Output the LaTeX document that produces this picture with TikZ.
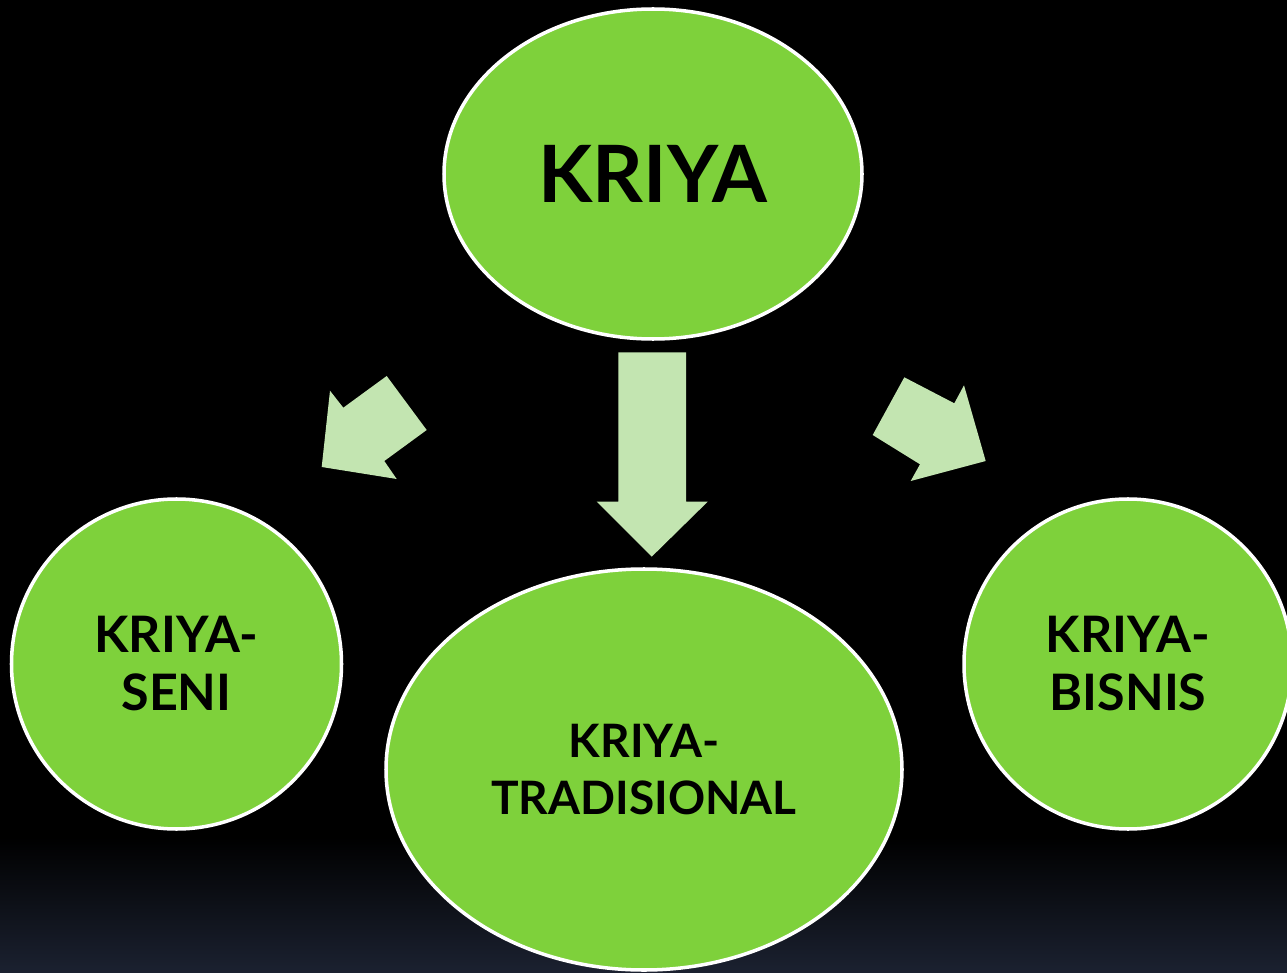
\documentclass[tikz,border=0pt]{standalone}
\usepackage{fontspec}
\setmainfont{Lato}
\usepackage{tikz}
\usetikzlibrary{shapes.geometric,positioning}
\definecolor{kriyagreen}{HTML}{7ED13B}
\definecolor{arrowgreen}{HTML}{C3E5B1}
\definecolor{bgblue}{HTML}{1B2130}
\tikzset{
    topic/.style={ellipse,draw=white,line width=1pt,fill=kriyagreen,inner sep=0pt,
        align=center,font=\bfseries},
    blockarrow/.style={fill=arrowgreen}
}
\begin{document}
\begin{tikzpicture}[]
    \useasboundingbox (0,0) rectangle (12.87,9.72);
    \fill[black] (0,0) rectangle (12.87,9.72);
    \shade[top color=black,bottom color=bgblue] (0,0) rectangle (12.87,1.35);
    \clip (0,0) rectangle (12.87,9.72);
    \node[topic,minimum width=4.18cm,minimum height=3.30cm,font=\bfseries\fontsize{22.5}{27}\selectfont] at (6.53,7.98) (b1e4a07c) {KRIYA};
    \node[topic,minimum width=3.30cm,minimum height=3.30cm,font=\bfseries\fontsize{14.3}{16.5}\selectfont] at (1.765,3.08) (4c2d9f31) {KRIYA-\\SENI};
    \node[topic,minimum width=5.16cm,minimum height=4.01cm,font=\bfseries\fontsize{13.1}{16}\selectfont] at (6.44,2.025) (93a7e0b6) {KRIYA-\\TRADISIONAL};
    \node[topic,minimum width=3.28cm,minimum height=3.30cm,font=\bfseries\fontsize{14.3}{16.5}\selectfont] at (11.28,3.08) (e85f12d4) {KRIYA-\\BISNIS};
    \fill[blockarrow] (3.217,5.05) -- (3.30,5.813) -- (3.433,5.643) -- (3.867,5.96)
        -- (4.267,5.42) -- (3.843,5.11) -- (3.967,4.93) -- cycle;
    \fill[blockarrow] (6.183,6.197) -- (6.86,6.197) -- (6.86,4.703) -- (7.077,4.703)
        -- (6.517,4.153) -- (5.967,4.703) -- (6.183,4.703) -- cycle;
    \fill[blockarrow] (9.043,5.947) -- (9.543,5.687) -- (9.64,5.867) -- (9.857,5.11)
        -- (9.107,4.91) -- (9.20,5.077) -- (8.727,5.37) -- cycle;
\end{tikzpicture}
\end{document}
